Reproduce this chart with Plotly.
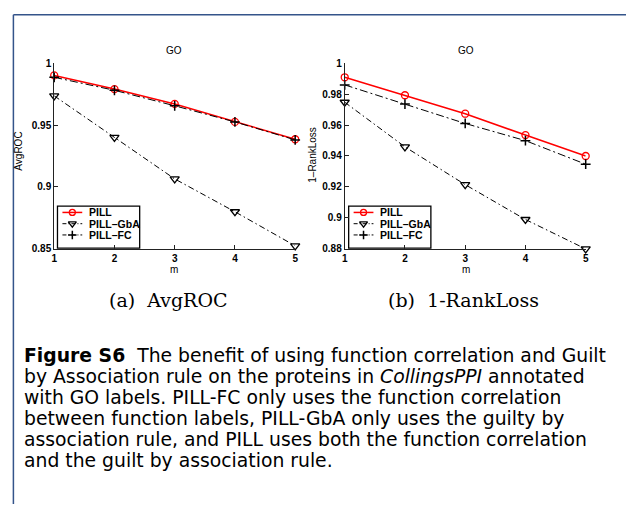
import plotly.graph_objects as go

m = [1, 2, 3, 4, 5]
avgroc_pill = [0.990, 0.979, 0.967, 0.9525, 0.9385]
avgroc_gba = [0.9735, 0.940, 0.9065, 0.880, 0.8525]
avgroc_fc = [0.9885, 0.978, 0.9655, 0.9525, 0.938]
rl_pill = [0.9908, 0.9792, 0.9673, 0.9535, 0.9400]
rl_gba = [0.9747, 0.9459, 0.9215, 0.8990, 0.8800]
rl_fc = [0.9859, 0.9735, 0.9610, 0.9499, 0.9347]
names = ["PILL", "PILL–GbA", "PILL–FC"]
avgroc_ticks = [0.85, 0.9, 0.95, 1]
rl_ticks = [0.88, 0.9, 0.92, 0.94, 0.96, 0.98, 1]

W, H = 629, 509
def px(x): return x / W
def py(y): return 1 - y / H

styles = [
    dict(line=dict(color="red", width=1.5, dash="solid"),
         marker=dict(symbol="circle-open", size=7, color="red", line=dict(width=1.3))),
    dict(line=dict(color="black", width=1, dash="6px,3px,1.5px,3px"),
         marker=dict(symbol="triangle-down-open", size=8, color="black", line=dict(width=1.3))),
    dict(line=dict(color="black", width=1, dash="8px,3px,2px,3px"),
         marker=dict(symbol="cross-thin-open", size=7, color="black", line=dict(width=1.5))),
]

fig = go.Figure()
for i, ys in enumerate([avgroc_pill, avgroc_gba, avgroc_fc]):
    fig.add_trace(go.Scatter(x=m, y=ys, mode="lines+markers", name=names[i], xaxis="x", yaxis="y",
                             showlegend=False, cliponaxis=False, **styles[i]))
for i, ys in enumerate([rl_pill, rl_gba, rl_fc]):
    fig.add_trace(go.Scatter(x=m, y=ys, mode="lines+markers", name=names[i], xaxis="x2", yaxis="y2",
                             showlegend=False, cliponaxis=False, **styles[i]))

tickfont = dict(family="Liberation Sans, Arial", size=10, color="black", weight="bold")
axcommon = dict(showline=True, linecolor="#222", linewidth=1, ticks="inside", ticklen=4,
                tickcolor="#222", showgrid=False, zeroline=False, tickfont=tickfont, mirror=False)
ydom = [py(248.3), py(58.3)]
fig.update_layout(
    width=W, height=H, margin=dict(l=0, r=0, t=0, b=0),
    paper_bgcolor="white", plot_bgcolor="rgba(0,0,0,0)", showlegend=False,
    xaxis=dict(domain=[px(51.7), px(295)], range=[1, 5], tickvals=m, anchor="y", **axcommon),
    yaxis=dict(domain=ydom, range=[0.85, 1], tickvals=avgroc_ticks,
               ticktext=[f"{v:g}" for v in avgroc_ticks], anchor="x", **axcommon),
    xaxis2=dict(domain=[px(345), px(588.3)], range=[1, 5], tickvals=m, anchor="y2", **axcommon),
    yaxis2=dict(domain=ydom, range=[0.88, 1], tickvals=rl_ticks,
                ticktext=[f"{v:g}" for v in rl_ticks], anchor="x2", **axcommon),
    # overlay axes in pixel units, used only for the hand-built legend glyphs
    xaxis3=dict(domain=[0, 1], range=[0, W], visible=False, anchor="y3"),
    yaxis3=dict(domain=[0, 1], range=[H, 0], visible=False, anchor="x3"),
)

ann = []
shapes = []
lab = dict(family="Liberation Sans, Arial", size=10, color="black")
legfont = dict(family="Liberation Sans, Arial", size=10.5, color="black", weight="bold")

# hand-built legends (plotly legends have a fixed minimum row height)
for lx, ly in [(55, 204.5), (349, 204.5)]:
    shapes.append(dict(type="rect", xref="paper", yref="paper", x0=px(lx), x1=px(lx + 83),
                       y0=py(ly + 43), y1=py(ly), line=dict(color="black", width=1.3), fillcolor="white",
                       layer="below"))
    for i in range(3):
        yy = ly + 6.5 + 11.5 * i
        st = styles[i]
        shapes.append(dict(type="line", xref="paper", yref="paper", x0=px(lx + 5), x1=px(lx + 25),
                           y0=py(yy), y1=py(yy), layer="below",
                           line=dict(color=st["line"]["color"], width=st["line"]["width"],
                                     dash="solid" if i == 0 else "4px,2px,1px,2px")))
        fig.add_trace(go.Scatter(x=[lx + 15], y=[yy], mode="markers", xaxis="x3", yaxis="y3",
                                 showlegend=False, hoverinfo="skip", cliponaxis=False,
                                 marker=dict(symbol=st["marker"]["symbol"], size=st["marker"]["size"] - 1,
                                             color=st["marker"]["color"], line=st["marker"]["line"])))
        ann.append(dict(text=names[i], x=px(lx + 30), y=py(yy), xanchor="left", font=legfont))

ann.append(dict(text="GO", x=px(173), y=py(45), font=lab))
ann.append(dict(text="GO", x=px(467), y=py(45), font=lab))
ann.append(dict(text="m", x=px(173), y=py(269), font=lab))
ann.append(dict(text="m", x=px(467), y=py(269), font=lab))
ann.append(dict(text="AvgROC", x=px(16), y=py(148), font=lab, textangle=-90))
ann.append(dict(text="1–RankLoss", x=px(313), y=py(152), font=lab, textangle=-90))
serif = dict(family="DejaVu Serif", size=19, color="black")
ann.append(dict(text="(a)  AvgROC", x=px(167), y=py(300), font=serif))
ann.append(dict(text="(b)  1-RankLoss", x=px(465), y=py(300), font=serif))
cap = dict(family="DejaVu Sans", size=18.8, color="black")
lines = [
    "<b>Figure S6</b>  The benefit of using function correlation and Guilt",
    "by Association rule on the proteins in <i>CollingsPPI</i> annotated",
    "with GO labels. PILL-FC only uses the function correlation",
    "between function labels, PILL-GbA only uses the guilty by",
    "association rule, and PILL uses both the function correlation",
    "and the guilt by association rule.",
]
for i, t in enumerate(lines):
    ann.append(dict(text=t, x=px(19), y=py(357 + 21.6 * i), xanchor="left", font=cap))
for a in ann:
    a.setdefault("xanchor", "center")
    a.update(xref="paper", yref="paper", yanchor="middle", showarrow=False)

blue = "#34548a"
shapes.append(dict(type="line", xref="paper", yref="paper", x0=px(10.5), x1=px(10.5), y0=0, y1=py(9),
                   line=dict(color=blue, width=1.5)))
shapes.append(dict(type="line", xref="paper", yref="paper", x0=px(10.5), x1=1, y0=py(9), y1=py(9),
                   line=dict(color=blue, width=1.5)))
fig.update_layout(annotations=ann, shapes=shapes)

fig.write_html("out.html", config={"displayModeBar": False},
               post_script="document.body.style.margin='0';document.body.style.overflow='hidden';")
